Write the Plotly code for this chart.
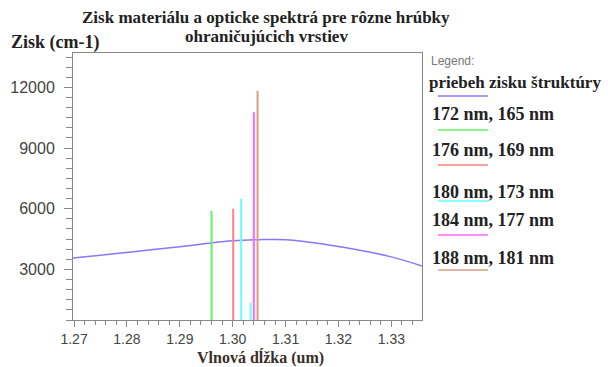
import plotly.graph_objects as go

# ---- data ----
curve_x = [1.2698, 1.275, 1.280, 1.285, 1.290, 1.295, 1.300, 1.305, 1.310, 1.315, 1.320, 1.325, 1.330, 1.3358]
curve_y = [3560, 3700, 3840, 3980, 4120, 4280, 4420, 4470, 4470, 4330, 4130, 3900, 3620, 3170]

series_names = ["172 nm, 165 nm", "176 nm, 169 nm", "180 nm, 173 nm", "184 nm, 177 nm", "188 nm, 181 nm"]
series_x = [[1.2960], [1.3001], [1.3016, 1.3034], [1.3040], [1.3047]]
series_y = [[5900], [6000], [6500, 1360], [10770], [11830]]
series_colors = ["#66ee66", "#ff8080", "#66ffff", "#ff66ff", "#d4a080"]
curve_name = "priebeh zisku štruktúry"
curve_color = "#8877ff"

x_tick0, x_dtick = 1.27, 0.01
y_tick0, y_dtick = 0, 3000

fig = go.Figure()
fig.add_trace(go.Scatter(x=curve_x, y=curve_y, mode="lines", name=curve_name,
                         line=dict(color=curve_color, width=1.5), line_shape="spline"))
for name, xs, ys, col in zip(series_names, series_x, series_y, series_colors):
    lx, ly = [], []
    for xv, yv in zip(xs, ys):
        lx += [xv, xv, None]
        ly += [0, yv, None]
    fig.add_trace(go.Scatter(x=lx, y=ly, mode="lines", name=name,
                             line=dict(color=col, width=2)))

W, H = 608, 367
L, R, T, B = 73, 422, 53, 320
serif = "Liberation Serif"
sans = "Liberation Sans"

def px(x):
    return (x - L) / (R - L)

def py(y):
    return (B - y) / (B - T)

annotations = [
    dict(text="<b>Zisk materiálu a opticke spektrá pre rôzne hrúbky</b>", x=px(266), y=py(18),
         xref="paper", yref="paper", showarrow=False, xanchor="center", yanchor="middle",
         font=dict(family=serif, size=17, color="#222")),
    dict(text="<b>ohraničujúcich vrstiev</b>", x=px(266), y=py(36),
         xref="paper", yref="paper", showarrow=False, xanchor="center", yanchor="middle",
         font=dict(family=serif, size=17, color="#222")),
    dict(text="<b>Zisk (cm-1)</b>", x=px(9), y=py(43),
         xref="paper", yref="paper", showarrow=False, xanchor="left", yanchor="middle",
         font=dict(family=serif, size=18, color="#222")),
    dict(text="<b>Vlnová dĺžka (um)</b>", x=px(260), y=py(357),
         xref="paper", yref="paper", showarrow=False, xanchor="center", yanchor="middle",
         font=dict(family=serif, size=16, color="#3a2e28")),
    dict(text="Legend:", x=px(429), y=py(61),
         xref="paper", yref="paper", showarrow=False, xanchor="left", yanchor="middle",
         font=dict(family=sans, size=12, color="#777")),
]
shapes = []
leg_names = [curve_name] + series_names
leg_colors = [curve_color] + series_colors
leg_text_y = [82, 114, 150, 192, 220, 258]
leg_line_y = [96, 130, 165, 201, 235, 270]
for nm, col, ty, ly in zip(leg_names, leg_colors, leg_text_y, leg_line_y):
    is_curve = nm == curve_name
    annotations.append(dict(text="<b>%s</b>" % nm, x=px(427 if is_curve else 430), y=py(ty),
                            xref="paper", yref="paper", showarrow=False, xanchor="left", yanchor="middle",
                            font=dict(family=serif, size=17 if is_curve else 18, color="#222")))
    shapes.append(dict(type="line", xref="paper", yref="paper", x0=px(438), x1=px(488),
                       y0=py(ly), y1=py(ly), line=dict(color=col, width=1.5)))

fig.update_layout(
    width=W, height=H,
    margin=dict(l=L, r=W - R, t=T, b=H - B, autoexpand=False),
    paper_bgcolor="white", plot_bgcolor="white",
    showlegend=False,
    annotations=annotations, shapes=shapes,
    xaxis=dict(range=[1.2698, 1.3358], tickmode="linear", tick0=x_tick0, dtick=x_dtick, tickformat=".2f",
               automargin=False,
               showgrid=False, zeroline=False, showline=True, linecolor="#888", linewidth=1,
               mirror=True, ticks="outside", ticklen=6, tickcolor="#888",
               minor=dict(dtick=0.002, tick0=x_tick0, ticks="outside", ticklen=4, tickcolor="#888", showgrid=False),
               tickfont=dict(family=sans, size=14, color="#444")),
    yaxis=dict(range=[500, 13700], tickmode="linear", tick0=y_tick0, dtick=y_dtick, tickformat="d",
               automargin=False,
               showgrid=False, zeroline=False, showline=True, linecolor="#888", linewidth=1,
               mirror=True, ticks="outside", ticklen=8, tickcolor="#888",
               minor=dict(dtick=500, tick0=0, ticks="outside", ticklen=6, tickcolor="#888", showgrid=False),
               tickfont=dict(family=sans, size=16, color="#444"), ticklabelstandoff=6),
)

fig.write_html("out.html")
